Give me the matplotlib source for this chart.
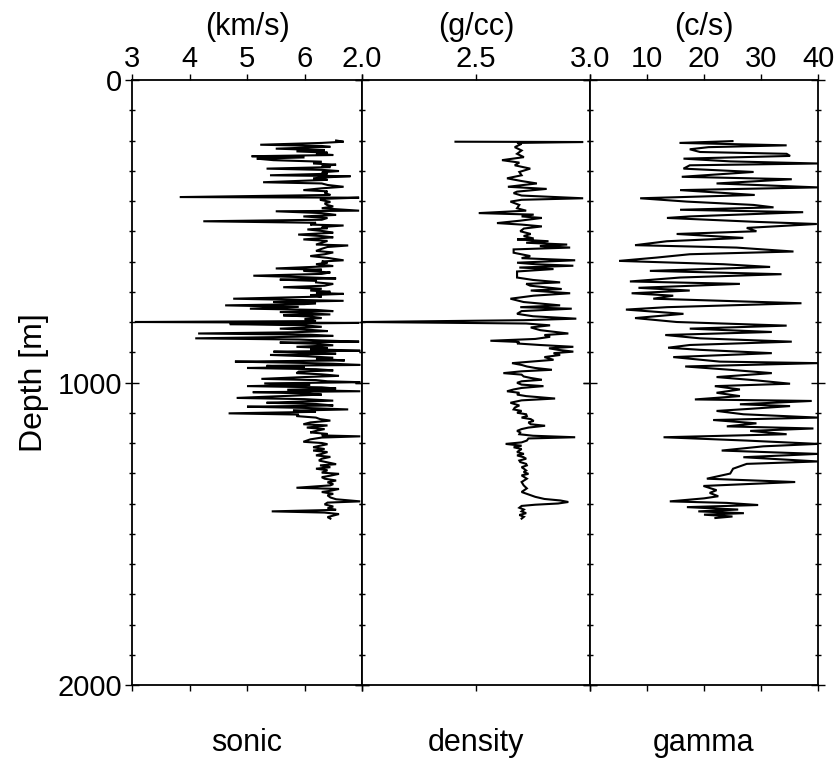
import matplotlib.pyplot as plt
from matplotlib.ticker import MultipleLocator

plt.rcParams['font.family'] = ['Liberation Sans', 'DejaVu Sans']

# sonic log: depth (m) and velocity (km/s)
sonic_depth = [
    200, 204, 208, 214, 218, 221, 227, 232, 236, 240,
    244, 248, 252, 256, 260, 265, 270, 276, 280, 284,
    288, 293, 297, 301, 305, 310, 315, 318, 322, 325,
    330, 338, 342, 347, 353, 358, 364, 368, 374, 380,
    387, 389, 393, 396, 403, 408, 413, 418, 424, 432,
    434, 440, 446, 451, 456, 462, 467, 472, 478, 481,
    486, 490, 494, 500, 505, 511, 516, 520, 527, 532,
    538, 544, 547, 552, 558, 565, 570, 576, 582, 588,
    596, 600, 604, 609, 615, 623, 627, 631, 636, 641,
    647, 652, 656, 660, 664, 669, 674, 680, 685, 690,
    696, 700, 704, 707, 711, 716, 723, 727, 730, 734,
    738, 741, 745, 750, 756, 760, 764, 767, 771, 775,
    778, 782, 787, 790, 797, 800, 803, 807, 811, 816,
    822, 826, 830, 834, 838, 842, 846, 850, 854, 858,
    861, 865, 868, 872, 877, 882, 886, 890, 895, 898,
    902, 905, 909, 913, 918, 922, 927, 931, 935, 938,
    942, 945, 949, 952, 956, 960, 964, 969, 973, 978,
    982, 988, 992, 996, 999, 1003, 1008, 1012, 1016, 1020,
    1024, 1029, 1032, 1036, 1040, 1045, 1051, 1055, 1060, 1064,
    1067, 1071, 1076, 1080, 1084, 1089, 1093, 1097, 1102, 1106,
    1111, 1116, 1121, 1126, 1132, 1138, 1142, 1149, 1154, 1160,
    1165, 1170, 1175, 1178, 1182, 1188, 1196, 1200, 1204, 1209,
    1214, 1220, 1225, 1230, 1236, 1241, 1246, 1252, 1258, 1264,
    1270, 1274, 1280, 1285, 1290, 1298, 1302, 1308, 1313, 1318,
    1324, 1330, 1336, 1340, 1348, 1352, 1358, 1362, 1368, 1373,
    1380, 1386, 1393, 1397, 1403, 1410, 1416, 1421, 1426, 1430,
    1435, 1440, 1445, 1450,
]
sonic_vel = [
    6.55, 6.68, 6.3, 5.23, 6.3, 6.45, 5.5, 6.35, 5.86, 6.4,
    6.2, 6.5, 5.08, 6.0, 5.17, 5.46, 6.3, 6.15, 6.55, 6.3,
    6.45, 5.34, 6.3, 6.6, 6.3, 6.4, 5.4, 6.8, 6.35, 6.15,
    6.4, 5.28, 6.3, 6.4, 6.68, 6.3, 5.98, 6.4, 6.35, 6.45,
    3.83, 6.95, 6.3, 6.27, 6.45, 6.35, 6.39, 6.5, 6.3, 6.95,
    5.5, 6.3, 6.55, 5.98, 6.4, 6.3, 4.24, 6.2, 6.1, 6.68,
    6.3, 6.4, 6.05, 6.35, 6.5, 5.89, 6.3, 6.5, 5.98, 6.4,
    6.3, 6.2, 6.76, 6.4, 6.3, 6.2, 6.5, 6.35, 6.1, 6.4,
    6.68, 6.3, 6.4, 6.2, 6.5, 5.5, 6.3, 5.98, 6.45, 6.3,
    5.11, 6.0, 6.55, 5.57, 6.2, 6.2, 6.5, 6.35, 5.63, 6.3,
    6.1, 6.45, 6.2, 6.68, 6.1, 6.3, 4.76, 5.9, 6.68, 5.46,
    6.2, 6.0, 4.62, 5.9, 5.05, 6.2, 6.5, 5.57, 6.0, 6.45,
    5.63, 6.1, 6.3, 6.0, 6.2, 3.05, 6.95, 4.70, 6.0, 6.3,
    5.57, 6.1, 6.4, 5.8, 4.15, 6.1, 6.5, 5.5, 4.10, 5.9,
    6.3, 6.95, 5.57, 6.2, 6.5, 5.86, 6.4, 6.1, 6.97, 5.46,
    6.2, 6.55, 5.40, 6.0, 6.5, 6.2, 6.7, 4.79, 5.9, 6.5,
    6.97, 5.34, 6.0, 5.0, 6.2, 6.5, 5.9, 5.86, 6.3, 6.6,
    6.0, 5.25, 6.2, 6.4, 6.97, 5.3, 6.1, 5.0, 6.3, 6.55,
    5.7, 6.97, 5.1, 6.0, 6.3, 5.6, 4.82, 6.0, 6.5, 5.8,
    5.34, 6.2, 6.5, 5.0, 6.0, 6.76, 5.8, 6.2, 4.68, 5.9,
    5.86, 6.2, 6.27, 6.45, 6.1, 5.98, 6.4, 6.04, 6.35, 6.2,
    6.1, 6.4, 6.3, 6.97, 6.3, 6.1, 5.98, 6.3, 6.4, 6.27,
    6.15, 6.35, 6.15, 6.4, 6.3, 6.2, 6.45, 6.3, 6.25, 6.4,
    6.55, 6.27, 6.45, 6.2, 6.4, 6.3, 6.6, 6.45, 6.3, 6.35,
    6.55, 6.4, 6.5, 6.45, 5.86, 6.6, 6.45, 6.3, 6.5, 6.4,
    6.45, 6.55, 6.97, 6.4, 6.35, 6.5, 6.4, 6.55, 5.43, 6.35,
    6.6, 6.5, 6.4, 6.45,
]

# density log: depth (m) and density (g/cc)
density_depth = [
    204, 205, 208, 211, 222, 233, 244, 255, 265, 273,
    282, 293, 304, 315, 325, 334, 342, 353, 360, 369,
    374, 382, 391, 396, 402, 413, 424, 432, 440, 445,
    451, 456, 465, 473, 478, 484, 491, 500, 509, 516,
    524, 527, 533, 538, 544, 549, 554, 560, 571, 582,
    589, 596, 604, 609, 614, 620, 625, 633, 642, 653,
    661, 669, 674, 680, 691, 696, 705, 713, 723, 734,
    745, 751, 756, 764, 773, 781, 789, 794, 800, 805,
    811, 818, 827, 838, 843, 849, 856, 862, 866, 871,
    876, 882, 887, 892, 898, 903, 909, 916, 925, 931,
    936, 942, 947, 952, 958, 963, 969, 974, 980, 985,
    991, 996, 1001, 1007, 1012, 1018, 1023, 1029, 1034, 1040,
    1045, 1053, 1059, 1067, 1076, 1083, 1089, 1094, 1100, 1105,
    1111, 1116, 1121, 1127, 1132, 1138, 1143, 1149, 1154, 1160,
    1165, 1171, 1176, 1181, 1185, 1192, 1198, 1203, 1209, 1214,
    1220, 1225, 1230, 1236, 1241, 1247, 1252, 1258, 1263, 1269,
    1274, 1280, 1285, 1291, 1296, 1302, 1307, 1318, 1329, 1340,
    1350, 1362, 1370, 1378, 1385, 1390, 1395, 1400, 1404, 1408,
    1414, 1420, 1426, 1432, 1438, 1444, 1450,
]
density_val = [
    2.41, 2.97, 2.68, 2.70, 2.67, 2.70, 2.68, 2.71, 2.614, 2.69,
    2.67, 2.738, 2.69, 2.70, 2.636, 2.70, 2.767, 2.64, 2.81, 2.68,
    2.665, 2.70, 2.97, 2.70, 2.651, 2.69, 2.68, 2.72, 2.512, 2.753,
    2.70, 2.789, 2.694, 2.592, 2.70, 2.789, 2.71, 2.694, 2.74, 2.709,
    2.753, 2.68, 2.818, 2.72, 2.90, 2.78, 2.913, 2.665, 2.665, 2.738,
    2.70, 2.935, 2.68, 2.76, 2.927, 2.69, 2.84, 2.68, 2.68, 2.68,
    2.75, 2.869, 2.72, 2.738, 2.876, 2.74, 2.913, 2.753, 2.651, 2.709,
    2.869, 2.694, 2.92, 2.70, 2.68, 2.75, 2.94, 2.709, 2.0, 2.72,
    2.825, 2.74, 2.782, 2.905, 2.80, 2.825, 2.76, 2.563, 2.69, 2.68,
    2.78, 2.927, 2.82, 2.86, 2.927, 2.84, 2.869, 2.80, 2.84, 2.74,
    2.658, 2.70, 2.723, 2.76, 2.833, 2.70, 2.62, 2.70, 2.709, 2.74,
    2.789, 2.70, 2.68, 2.70, 2.796, 2.70, 2.665, 2.636, 2.69, 2.68,
    2.72, 2.847, 2.70, 2.651, 2.69, 2.67, 2.665, 2.70, 2.68, 2.72,
    2.723, 2.70, 2.74, 2.753, 2.73, 2.74, 2.803, 2.73, 2.70, 2.68,
    2.694, 2.69, 2.75, 2.935, 2.73, 2.723, 2.70, 2.63, 2.70, 2.665,
    2.70, 2.69, 2.68, 2.71, 2.68, 2.709, 2.72, 2.69, 2.694, 2.72,
    2.723, 2.70, 2.71, 2.72, 2.709, 2.73, 2.70, 2.723, 2.70, 2.709,
    2.723, 2.70, 2.73, 2.76, 2.80, 2.87, 2.905, 2.86, 2.76, 2.70,
    2.69, 2.71, 2.70, 2.72, 2.69, 2.71, 2.70,
]

# gamma ray log: depth (m) and counts per second
gamma_depth = [
    202, 208, 216, 222, 229, 238, 244, 251, 260, 269, 276,
    282, 293, 304, 320, 328, 342, 355, 364, 380, 391,
    402, 413, 421, 429, 437, 451, 456, 469, 476, 489,
    500, 509, 522, 533, 546, 554, 567, 576, 587, 598,
    609, 618, 631, 642, 653, 666, 674, 687, 696, 705,
    713, 723, 738, 751, 759, 773, 787, 800, 812, 822,
    833, 843, 854, 865, 876, 885, 892, 903, 916, 931,
    936, 947, 958, 969, 982, 993, 1004, 1012, 1023, 1034,
    1045, 1056, 1061, 1072, 1078, 1087, 1094, 1105, 1116, 1124,
    1135, 1145, 1152, 1160, 1171, 1181, 1192, 1203, 1211, 1225,
    1236, 1247, 1261, 1269, 1285, 1301, 1318, 1329, 1342, 1356,
    1365, 1376, 1383, 1393, 1398, 1405, 1412, 1420, 1426, 1432,
    1437, 1443, 1448,
]
gamma_val = [
    25.0, 15.7, 34.5, 20.8, 17.5, 19.3, 34.5, 35.1, 16.4, 24.6, 40.0,
    17.5, 16.4, 28.7, 16.1, 35.4, 22.2, 40.0, 15.8, 28.9, 8.8,
    17.0, 28.7, 32.2, 15.8, 37.4, 17.5, 13.5, 29.2, 39.8, 27.5,
    29.2, 15.2, 26.9, 13.5, 7.9, 25.7, 35.7, 17.5, 11.7, 5.1,
    23.4, 31.6, 10.5, 33.6, 15.8, 7.0, 26.3, 8.5, 17.5, 7.3,
    14.6, 11.1, 37.1, 13.5, 6.3, 16.4, 7.9, 15.2, 34.5, 17.5,
    31.9, 13.2, 19.3, 35.4, 17.5, 13.7, 19.3, 31.9, 14.6, 22.8,
    40.0, 16.7, 24.6, 31.9, 22.2, 29.2, 35.1, 21.9, 26.3, 22.2,
    26.3, 18.4, 38.9, 26.3, 35.1, 28.1, 22.2, 26.9, 40.0, 21.6,
    29.2, 24.0, 39.2, 28.1, 34.5, 12.9, 27.5, 40.0, 30.4, 23.1,
    40.0, 26.9, 40.0, 27.5, 25.1, 24.6, 20.5, 36.0, 19.9, 22.2,
    21.0, 22.5, 20.0, 14.0, 24.0, 29.5, 17.0, 26.0, 19.0, 27.0,
    20.0, 25.0, 22.0,
]

tracks = [
    (sonic_vel, sonic_depth, (3, 7), [3, 4, 5, 6, 7], ['3', '4', '5', '6', ''], '(km/s)', 'sonic'),
    (density_val, density_depth, (2.0, 3.0), [2.0, 2.5, 3.0], ['2.0', '2.5', '3.0'], '(g/cc)', 'density'),
    (gamma_val, gamma_depth, (0, 40), [0, 10, 20, 30, 40], ['', '10', '20', '30', '40'], '(c/s)', 'gamma'),
]

W, H = 838, 767
edges = [132, 362, 590, 818]
top_px, bot_px = 80, 685

fig = plt.figure(figsize=(W / 100, H / 100), dpi=100)

for i, (x, y, xlim, xt, xtl, unit, name) in enumerate(tracks):
    x0, x1 = edges[i], edges[i + 1]
    ax = fig.add_axes([x0 / W, 1 - bot_px / H, (x1 - x0) / W, (bot_px - top_px) / H])
    ax.plot(x, y, color='k', lw=1.5, solid_joinstyle='miter')
    ax.set_xlim(*xlim)
    ax.set_ylim(2000, 0)

    ax.set_xticks(xt)
    ax.set_xticklabels(xtl)
    ax.tick_params(axis='x', top=True, bottom=True, labeltop=True, labelbottom=False,
                   direction='out', length=4, width=1, labelsize=21, pad=1)
    ax.xaxis.set_label_position('top')
    ax.set_xlabel(unit, fontsize=22, labelpad=7)

    ax.set_yticks([0, 1000, 2000])
    ax.yaxis.set_minor_locator(MultipleLocator(100))
    ax.tick_params(axis='y', which='major', left=True, right=True, direction='inout',
                   length=10, width=1, labelsize=21, pad=2)
    ax.tick_params(axis='y', which='minor', left=True, right=True, direction='inout',
                   length=5, width=1)
    if i == 0:
        ax.set_ylabel('Depth [m]', fontsize=23, labelpad=6)
    else:
        ax.tick_params(axis='y', labelleft=False)

    for s in ax.spines.values():
        s.set_linewidth(1.3)

    ax.text(0.5, -0.096, name, transform=ax.transAxes, ha='center', va='center', fontsize=22)

fig.savefig('out.png', dpi=100)
